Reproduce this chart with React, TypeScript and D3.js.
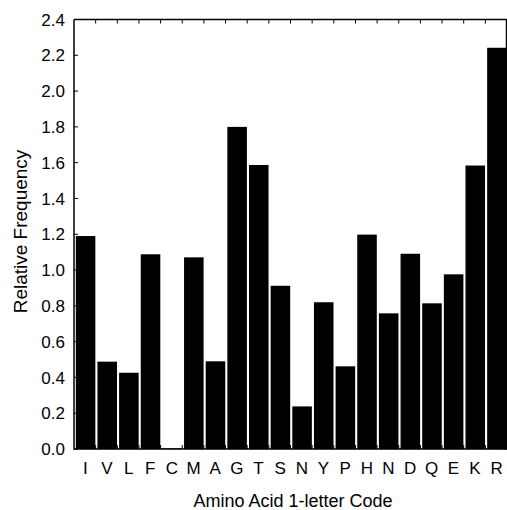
import React from "react";
import * as d3 from "d3";

const categories = ["I","V","L","F","C","M","A","G","T","S","N","Y","P","H","N","D","Q","E","K","R"];
const values = [1.19,0.488,0.426,1.088,0.004,1.071,0.49,1.80,1.587,0.912,0.238,0.82,0.462,1.198,0.758,1.091,0.814,0.976,1.584,2.242];
const yTicks = [0,0.2,0.4,0.6,0.8,1.0,1.2,1.4,1.6,1.8,2.0,2.2,2.4];

const W = 507, H = 510;
const left = 74, right = 507, top = 19.5, bottom = 449;

export default function App() {
  const x = d3.scaleBand<number>().domain(d3.range(categories.length)).range([left, right]).padding(0);
  const y = d3.scaleLinear().domain([0, 2.4]).range([bottom, top]);
  const bw = x.bandwidth();
  const font = "'Liberation Sans', Arial, sans-serif";
  return (
    <svg width={W} height={H} style={{ position: "absolute", left: 0, top: 0 }}>
      <rect width={W} height={H} fill="#fff" />
      {values.map((v, i) => (
        <rect key={i} x={x(i)! + 1.8} width={bw - 2.1} y={y(v)} height={bottom - y(v)} fill="#000" />
      ))}
      {/* frame */}
      <path d={`M${left},${top}H${right}M${left},${top}V${bottom}H${right}`} stroke="#000" strokeWidth={1.5} fill="none" />
      <line x1={right - 0.5} x2={right - 0.5} y1={top} y2={bottom} stroke="#000" strokeWidth={1.5} />
      {/* y ticks */}
      {yTicks.map((t) => (
        <g key={t}>
          <line x1={left} x2={left + 4} y1={y(t)} y2={y(t)} stroke="#000" strokeWidth={1} />
          <line x1={right - 4} x2={right} y1={y(t)} y2={y(t)} stroke="#000" strokeWidth={1} />
          <text x={65} y={y(t)} dy="0.36em" textAnchor="end" fontFamily={font} fontSize={17}>{t.toFixed(1)}</text>
        </g>
      ))}
      {/* x boundary ticks */}
      {d3.range(1, categories.length).map((i) => (
        <g key={i}>
          <line x1={x(i)!} x2={x(i)!} y1={top} y2={top + 4} stroke="#000" strokeWidth={1} />
          <line x1={x(i)!} x2={x(i)!} y1={bottom} y2={bottom - 4} stroke="#000" strokeWidth={1} />
        </g>
      ))}
      {categories.map((c, i) => (
        <text key={i} x={x(i)! + bw / 2 + 0.5} y={473.5} textAnchor="middle" fontFamily={font} fontSize={17}>{c}</text>
      ))}
      <text x={293} y={507} textAnchor="middle" fontFamily={font} fontSize={18}>Amino Acid 1-letter Code</text>
      <text transform={`translate(27,231.5) rotate(-90)`} textAnchor="middle" fontFamily={font} fontSize={19}>Relative Frequency</text>
    </svg>
  );
}
